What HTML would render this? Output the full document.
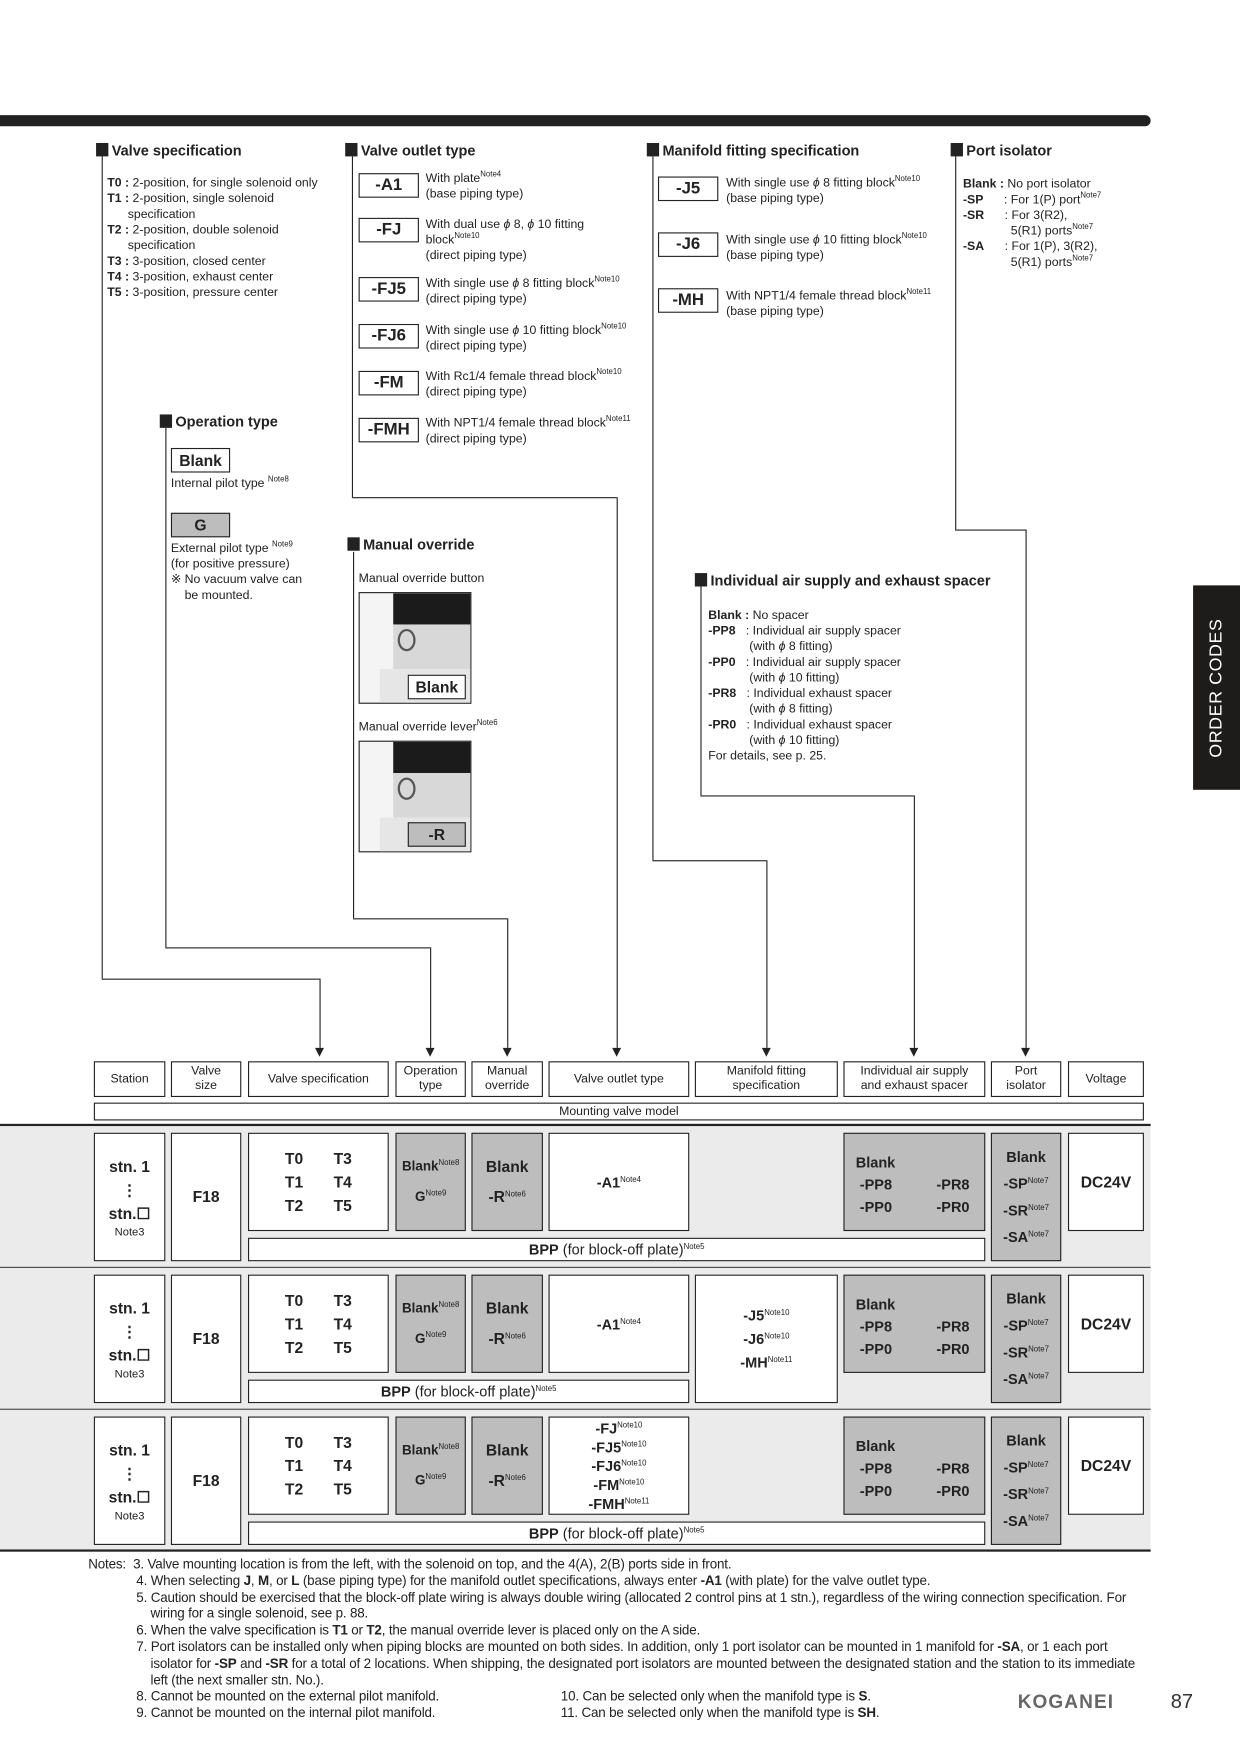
<!DOCTYPE html>
<html><head><meta charset="utf-8">
<style>
html,body{margin:0;padding:0;background:#fff;}
body{width:1240px;height:1754px;overflow:hidden;position:relative;}
#p{position:absolute;left:0;top:0;width:1110px;height:1570px;transform:scale(1.11712);transform-origin:0 0;font-family:"Liberation Sans",sans-serif;color:#222;}
#p div{position:absolute;box-sizing:border-box;}
.t{font-size:13px;font-weight:bold;white-space:nowrap;}
.t:before{content:"";display:inline-block;width:11px;height:12px;background:#222;margin-right:3px;vertical-align:-1px;}
.s{font-size:11px;line-height:14px;white-space:nowrap;}
.code{border:1px solid #222;background:#fff;font-weight:bold;font-size:15px;text-align:center;line-height:20px;width:54px;height:22px;}
.vl{border-left:1px solid #222;width:0;}
.hl{border-top:1px solid #222;height:0;}
.ar{width:0;height:0;border-left:4px solid transparent;border-right:4px solid transparent;border-top:8px solid #222;}
.bx{border:1px solid #222;background:#fff;font-size:11px;text-align:center;display:flex;align-items:center;justify-content:center;line-height:13px;}
.g{background:#bdbdbd !important;}
sup{font-size:7px;font-weight:normal;vertical-align:5px;line-height:0;}
.cell{font-weight:bold;font-size:14px;line-height:21px;text-align:center;}
.n div{position:static !important;}
</style></head><body><div id="p">

<div style="left:0;top:103px;width:1030px;height:10px;background:#222;border-radius:0 5px 5px 0;"></div>

<div class="t" style="left:86px;top:127px;">Valve specification</div>
<div class="s" style="left:96px;top:157px;">
<b>T0 :</b> 2-position, for single solenoid only<br>
<b>T1 :</b> 2-position, single solenoid<br>&nbsp;&nbsp;&nbsp;&nbsp;&nbsp;&nbsp;specification<br>
<b>T2 :</b> 2-position, double solenoid<br>&nbsp;&nbsp;&nbsp;&nbsp;&nbsp;&nbsp;specification<br>
<b>T3 :</b> 3-position, closed center<br>
<b>T4 :</b> 3-position, exhaust center<br>
<b>T5 :</b> 3-position, pressure center</div>

<div class="t" style="left:309px;top:127px;">Valve outlet type</div>
<div class="code" style="left:321px;top:155px;">-A1</div>
<div class="s" style="left:381px;top:153px;">With plate<sup>Note4</sup><br>(base piping type)</div>
<div class="code" style="left:321px;top:195px;">-FJ</div>
<div class="s" style="left:381px;top:194px;">With dual use <i>ϕ</i> 8, <i>ϕ</i> 10 fitting<br>block<sup>Note10</sup><br>(direct piping type)</div>
<div class="code" style="left:321px;top:248px;">-FJ5</div>
<div class="s" style="left:381px;top:247px;">With single use <i>ϕ</i> 8 fitting block<sup>Note10</sup><br>(direct piping type)</div>
<div class="code" style="left:321px;top:290px;">-FJ6</div>
<div class="s" style="left:381px;top:289px;">With single use <i>ϕ</i> 10 fitting block<sup>Note10</sup><br>(direct piping type)</div>
<div class="code" style="left:321px;top:332px;">-FM</div>
<div class="s" style="left:381px;top:330px;">With Rc1/4 female thread block<sup>Note10</sup><br>(direct piping type)</div>
<div class="code" style="left:321px;top:374px;">-FMH</div>
<div class="s" style="left:381px;top:372px;">With NPT1/4 female thread block<sup>Note11</sup><br>(direct piping type)</div>

<div class="t" style="left:579px;top:127px;">Manifold fitting specification</div>
<div class="code" style="left:589px;top:158px;">-J5</div>
<div class="s" style="left:650px;top:157px;">With single use <i>ϕ</i> 8 fitting block<sup>Note10</sup><br>(base piping type)</div>
<div class="code" style="left:589px;top:208px;">-J6</div>
<div class="s" style="left:650px;top:208px;">With single use <i>ϕ</i> 10 fitting block<sup>Note10</sup><br>(base piping type)</div>
<div class="code" style="left:589px;top:258px;">-MH</div>
<div class="s" style="left:650px;top:258px;">With NPT1/4 female thread block<sup>Note11</sup><br>(base piping type)</div>

<div class="t" style="left:851px;top:127px;">Port isolator</div>
<div class="s" style="left:862px;top:158px;">
<b>Blank :</b> No port isolator<br>
<b>-SP</b>&nbsp;&nbsp;&nbsp;&nbsp;&nbsp;&nbsp;: For 1(P) port<sup>Note7</sup><br>
<b>-SR</b>&nbsp;&nbsp;&nbsp;&nbsp;&nbsp;&nbsp;: For 3(R2),<br>
&nbsp;&nbsp;&nbsp;&nbsp;&nbsp;&nbsp;&nbsp;&nbsp;&nbsp;&nbsp;&nbsp;&nbsp;&nbsp;&nbsp;5(R1) ports<sup>Note7</sup><br>
<b>-SA</b>&nbsp;&nbsp;&nbsp;&nbsp;&nbsp;&nbsp;: For 1(P), 3(R2),<br>
&nbsp;&nbsp;&nbsp;&nbsp;&nbsp;&nbsp;&nbsp;&nbsp;&nbsp;&nbsp;&nbsp;&nbsp;&nbsp;&nbsp;5(R1) ports<sup>Note7</sup></div>

<div class="t" style="left:143px;top:370px;">Operation type</div>
<div class="code" style="left:153px;top:401px;width:53px;font-size:14px;">Blank</div>
<div class="s" style="left:153px;top:426px;">Internal pilot type <sup>Note8</sup></div>
<div class="code g" style="left:153px;top:459px;width:53px;font-size:14px;">G</div>
<div class="s" style="left:153px;top:484px;">External pilot type <sup>Note9</sup><br>(for positive pressure)<br>※ No vacuum valve can<br>&nbsp;&nbsp;&nbsp;&nbsp;be mounted.</div>

<div class="t" style="left:311px;top:480px;">Manual override</div>
<div class="s" style="left:321px;top:511px;">Manual override button</div>
<div style="left:321px;top:530px;width:101px;height:100px;border:1px solid #222;background:#f4f4f4;overflow:hidden;">
 <div style="left:30px;top:0;width:70px;height:28px;background:#1b1b1b;"></div>
 <div style="left:30px;top:28px;width:70px;height:40px;background:#d8d8d8;"></div>
 <div style="left:34px;top:32px;width:16px;height:20px;border:2px solid #555;border-radius:50%;"></div>
 <div style="left:18px;top:68px;width:82px;height:32px;background:#e6e6e6;"></div>
</div>
<div class="code" style="left:365px;top:604px;width:52px;font-size:14px;">Blank</div>
<div class="s" style="left:321px;top:644px;">Manual override lever<sup>Note6</sup></div>
<div style="left:321px;top:663px;width:101px;height:100px;border:1px solid #222;background:#f4f4f4;overflow:hidden;">
 <div style="left:30px;top:0;width:70px;height:28px;background:#1b1b1b;"></div>
 <div style="left:30px;top:28px;width:70px;height:40px;background:#d8d8d8;"></div>
 <div style="left:34px;top:32px;width:16px;height:20px;border:2px solid #555;border-radius:50%;"></div>
 <div style="left:18px;top:68px;width:82px;height:32px;background:#e6e6e6;"></div>
</div>
<div class="code g" style="left:365px;top:736px;width:52px;font-size:14px;">-R</div>

<div class="t" style="left:622px;top:512px;">Individual air supply and exhaust spacer</div>
<div class="s" style="left:634px;top:544px;">
<b>Blank :</b> No spacer<br>
<b>-PP8</b>&nbsp;&nbsp;&nbsp;: Individual air supply spacer<br>
&nbsp;&nbsp;&nbsp;&nbsp;&nbsp;&nbsp;&nbsp;&nbsp;&nbsp;&nbsp;&nbsp;&nbsp;(with <i>ϕ</i> 8 fitting)<br>
<b>-PP0</b>&nbsp;&nbsp;&nbsp;: Individual air supply spacer<br>
&nbsp;&nbsp;&nbsp;&nbsp;&nbsp;&nbsp;&nbsp;&nbsp;&nbsp;&nbsp;&nbsp;&nbsp;(with <i>ϕ</i> 10 fitting)<br>
<b>-PR8</b>&nbsp;&nbsp;&nbsp;: Individual exhaust spacer<br>
&nbsp;&nbsp;&nbsp;&nbsp;&nbsp;&nbsp;&nbsp;&nbsp;&nbsp;&nbsp;&nbsp;&nbsp;(with <i>ϕ</i> 8 fitting)<br>
<b>-PR0</b>&nbsp;&nbsp;&nbsp;: Individual exhaust spacer<br>
&nbsp;&nbsp;&nbsp;&nbsp;&nbsp;&nbsp;&nbsp;&nbsp;&nbsp;&nbsp;&nbsp;&nbsp;(with <i>ϕ</i> 10 fitting)<br>
For details, see p. 25.</div>

<div class="vl" style="left:91px;top:140px;height:736px;"></div>
<div class="hl" style="left:91px;top:876px;width:195px;"></div>
<div class="vl" style="left:286px;top:876px;height:62px;"></div>
<div class="ar" style="left:282px;top:938px;"></div>

<div class="vl" style="left:148px;top:383px;height:465px;"></div>
<div class="hl" style="left:148px;top:848px;width:237px;"></div>
<div class="vl" style="left:385px;top:848px;height:90px;"></div>
<div class="ar" style="left:381px;top:938px;"></div>

<div class="vl" style="left:315px;top:140px;height:305px;"></div>
<div class="hl" style="left:315px;top:445px;width:237px;"></div>
<div class="vl" style="left:552px;top:445px;height:493px;"></div>
<div class="ar" style="left:548px;top:938px;"></div>

<div class="vl" style="left:316px;top:494px;height:328px;"></div>
<div class="hl" style="left:316px;top:822px;width:138px;"></div>
<div class="vl" style="left:454px;top:822px;height:116px;"></div>
<div class="ar" style="left:450px;top:938px;"></div>

<div class="vl" style="left:584px;top:140px;height:630px;"></div>
<div class="hl" style="left:584px;top:770px;width:102px;"></div>
<div class="vl" style="left:686px;top:770px;height:168px;"></div>
<div class="ar" style="left:682px;top:938px;"></div>

<div class="vl" style="left:627px;top:525px;height:187px;"></div>
<div class="hl" style="left:627px;top:712px;width:191px;"></div>
<div class="vl" style="left:818px;top:712px;height:226px;"></div>
<div class="ar" style="left:814px;top:938px;"></div>

<div class="vl" style="left:855px;top:140px;height:334px;"></div>
<div class="hl" style="left:855px;top:474px;width:63px;"></div>
<div class="vl" style="left:918px;top:474px;height:464px;"></div>
<div class="ar" style="left:914px;top:938px;"></div>

<div style="left:1068px;top:524px;width:42px;height:183px;background:#1e1b1b;"></div>
<div style="left:998px;top:604px;width:183px;height:24px;transform:rotate(-90deg);color:#fff;font-size:16px;text-align:center;line-height:24px;letter-spacing:0.5px;">ORDER CODES</div>

<div class="bx" style="left:84px;top:950px;width:64px;height:32px;"><span>Station</span></div>
<div class="bx" style="left:153px;top:950px;width:63px;height:32px;"><span>Valve<br>size</span></div>
<div class="bx" style="left:222px;top:950px;width:126px;height:32px;"><span>Valve specification</span></div>
<div class="bx" style="left:354px;top:950px;width:63px;height:32px;"><span>Operation<br>type</span></div>
<div class="bx" style="left:422px;top:950px;width:64px;height:32px;"><span>Manual<br>override</span></div>
<div class="bx" style="left:491px;top:950px;width:126px;height:32px;"><span>Valve outlet type</span></div>
<div class="bx" style="left:622px;top:950px;width:128px;height:32px;"><span>Manifold fitting<br>specification</span></div>
<div class="bx" style="left:755px;top:950px;width:127px;height:32px;"><span>Individual air supply<br>and exhaust spacer</span></div>
<div class="bx" style="left:887px;top:950px;width:63px;height:32px;"><span>Port<br>isolator</span></div>
<div class="bx" style="left:956px;top:950px;width:68px;height:32px;"><span>Voltage</span></div>
<div class="bx" style="left:84px;top:987px;width:940px;height:16px;"><span>Mounting valve model</span></div>

<div style="left:0;top:1008px;width:1030px;height:380px;background:#ebebeb;"></div>
<div style="left:0;top:1006px;width:1030px;height:2px;background:#222;"></div>
<div style="left:0;top:1134px;width:1030px;height:1px;background:#444;"></div>
<div style="left:0;top:1261px;width:1030px;height:1px;background:#444;"></div>
<div style="left:0;top:1387px;width:1030px;height:2px;background:#222;"></div>

<!-- ROW 1 -->
<div class="bx" style="left:84px;top:1014px;width:64px;height:115px;"><span><span class="cell" style="display:block">stn. 1<br>⋮<br>stn.☐</span><span style="font-size:10px;">Note3</span></span></div>
<div class="bx cell" style="left:153px;top:1014px;width:63px;height:115px;"><span>F18</span></div>
<div class="bx cell" style="left:222px;top:1014px;width:126px;height:88px;"><span>T0&nbsp;&nbsp;&nbsp;&nbsp;&nbsp;&nbsp;&nbsp;T3<br>T1&nbsp;&nbsp;&nbsp;&nbsp;&nbsp;&nbsp;&nbsp;T4<br>T2&nbsp;&nbsp;&nbsp;&nbsp;&nbsp;&nbsp;&nbsp;T5</span></div>
<div class="bx g" style="left:354px;top:1014px;width:63px;height:88px;font-weight:bold;font-size:12px;line-height:27px;"><span>Blank<sup>Note8</sup><br>G<sup>Note9</sup></span></div>
<div class="bx g" style="left:422px;top:1014px;width:64px;height:88px;font-weight:bold;font-size:14px;line-height:27px;"><span>Blank<br>-R<sup>Note6</sup></span></div>
<div class="bx" style="left:491px;top:1014px;width:126px;height:88px;font-weight:bold;font-size:13px;"><span>-A1<sup>Note4</sup></span></div>
<div class="bx g" style="left:755px;top:1014px;width:127px;height:88px;font-weight:bold;font-size:13px;line-height:20px;text-align:left;display:block;padding:16px 0 0 10px;">Blank<br>&nbsp;-PP8&nbsp;&nbsp;&nbsp;&nbsp;&nbsp;&nbsp;&nbsp;&nbsp;&nbsp;&nbsp;&nbsp;-PR8<br>&nbsp;-PP0&nbsp;&nbsp;&nbsp;&nbsp;&nbsp;&nbsp;&nbsp;&nbsp;&nbsp;&nbsp;&nbsp;-PR0</div>
<div class="bx g" style="left:887px;top:1014px;width:63px;height:115px;font-weight:bold;font-size:13px;line-height:24px;"><span>Blank<br>-SP<sup>Note7</sup><br>-SR<sup>Note7</sup><br>-SA<sup>Note7</sup></span></div>
<div class="bx cell" style="left:956px;top:1014px;width:68px;height:88px;"><span>DC24V</span></div>
<div class="bx" style="left:222px;top:1108px;width:660px;height:21px;font-size:13px;"><span><b>BPP</b> (for block-off plate)<sup>Note5</sup></span></div>

<!-- ROW 2 -->
<div class="bx" style="left:84px;top:1141px;width:64px;height:115px;"><span><span class="cell" style="display:block">stn. 1<br>⋮<br>stn.☐</span><span style="font-size:10px;">Note3</span></span></div>
<div class="bx cell" style="left:153px;top:1141px;width:63px;height:115px;"><span>F18</span></div>
<div class="bx cell" style="left:222px;top:1141px;width:126px;height:88px;"><span>T0&nbsp;&nbsp;&nbsp;&nbsp;&nbsp;&nbsp;&nbsp;T3<br>T1&nbsp;&nbsp;&nbsp;&nbsp;&nbsp;&nbsp;&nbsp;T4<br>T2&nbsp;&nbsp;&nbsp;&nbsp;&nbsp;&nbsp;&nbsp;T5</span></div>
<div class="bx g" style="left:354px;top:1141px;width:63px;height:88px;font-weight:bold;font-size:12px;line-height:27px;"><span>Blank<sup>Note8</sup><br>G<sup>Note9</sup></span></div>
<div class="bx g" style="left:422px;top:1141px;width:64px;height:88px;font-weight:bold;font-size:14px;line-height:27px;"><span>Blank<br>-R<sup>Note6</sup></span></div>
<div class="bx" style="left:491px;top:1141px;width:126px;height:88px;font-weight:bold;font-size:13px;"><span>-A1<sup>Note4</sup></span></div>
<div class="bx" style="left:622px;top:1141px;width:128px;height:115px;font-weight:bold;font-size:13px;line-height:21px;"><span>-J5<sup>Note10</sup><br>-J6<sup>Note10</sup><br>-MH<sup>Note11</sup></span></div>
<div class="bx g" style="left:755px;top:1141px;width:127px;height:88px;font-weight:bold;font-size:13px;line-height:20px;text-align:left;display:block;padding:16px 0 0 10px;">Blank<br>&nbsp;-PP8&nbsp;&nbsp;&nbsp;&nbsp;&nbsp;&nbsp;&nbsp;&nbsp;&nbsp;&nbsp;&nbsp;-PR8<br>&nbsp;-PP0&nbsp;&nbsp;&nbsp;&nbsp;&nbsp;&nbsp;&nbsp;&nbsp;&nbsp;&nbsp;&nbsp;-PR0</div>
<div class="bx g" style="left:887px;top:1141px;width:63px;height:115px;font-weight:bold;font-size:13px;line-height:24px;"><span>Blank<br>-SP<sup>Note7</sup><br>-SR<sup>Note7</sup><br>-SA<sup>Note7</sup></span></div>
<div class="bx cell" style="left:956px;top:1141px;width:68px;height:88px;"><span>DC24V</span></div>
<div class="bx" style="left:222px;top:1235px;width:395px;height:21px;font-size:13px;"><span><b>BPP</b> (for block-off plate)<sup>Note5</sup></span></div>

<!-- ROW 3 -->
<div class="bx" style="left:84px;top:1268px;width:64px;height:115px;"><span><span class="cell" style="display:block">stn. 1<br>⋮<br>stn.☐</span><span style="font-size:10px;">Note3</span></span></div>
<div class="bx cell" style="left:153px;top:1268px;width:63px;height:115px;"><span>F18</span></div>
<div class="bx cell" style="left:222px;top:1268px;width:126px;height:88px;"><span>T0&nbsp;&nbsp;&nbsp;&nbsp;&nbsp;&nbsp;&nbsp;T3<br>T1&nbsp;&nbsp;&nbsp;&nbsp;&nbsp;&nbsp;&nbsp;T4<br>T2&nbsp;&nbsp;&nbsp;&nbsp;&nbsp;&nbsp;&nbsp;T5</span></div>
<div class="bx g" style="left:354px;top:1268px;width:63px;height:88px;font-weight:bold;font-size:12px;line-height:27px;"><span>Blank<sup>Note8</sup><br>G<sup>Note9</sup></span></div>
<div class="bx g" style="left:422px;top:1268px;width:64px;height:88px;font-weight:bold;font-size:14px;line-height:27px;"><span>Blank<br>-R<sup>Note6</sup></span></div>
<div class="bx" style="left:491px;top:1268px;width:126px;height:88px;font-weight:bold;font-size:13px;line-height:17px;"><span>-FJ<sup>Note10</sup><br>-FJ5<sup>Note10</sup><br>-FJ6<sup>Note10</sup><br>-FM<sup>Note10</sup><br>-FMH<sup>Note11</sup></span></div>
<div class="bx g" style="left:755px;top:1268px;width:127px;height:88px;font-weight:bold;font-size:13px;line-height:20px;text-align:left;display:block;padding:16px 0 0 10px;">Blank<br>&nbsp;-PP8&nbsp;&nbsp;&nbsp;&nbsp;&nbsp;&nbsp;&nbsp;&nbsp;&nbsp;&nbsp;&nbsp;-PR8<br>&nbsp;-PP0&nbsp;&nbsp;&nbsp;&nbsp;&nbsp;&nbsp;&nbsp;&nbsp;&nbsp;&nbsp;&nbsp;-PR0</div>
<div class="bx g" style="left:887px;top:1268px;width:63px;height:115px;font-weight:bold;font-size:13px;line-height:24px;"><span>Blank<br>-SP<sup>Note7</sup><br>-SR<sup>Note7</sup><br>-SA<sup>Note7</sup></span></div>
<div class="bx cell" style="left:956px;top:1268px;width:68px;height:88px;"><span>DC24V</span></div>
<div class="bx" style="left:222px;top:1362px;width:660px;height:21px;font-size:13px;"><span><b>BPP</b> (for block-off plate)<sup>Note5</sup></span></div>

<!-- notes -->
<div class="n" style="left:79px;top:1393px;width:960px;font-size:12px;line-height:14.8px;letter-spacing:-0.15px;white-space:nowrap;">
<div>Notes:&nbsp;&nbsp;3. Valve mounting location is from the left, with the solenoid on top, and the 4(A), 2(B) ports side in front.</div>
<div style="padding-left:43px;">4. When selecting <b>J</b>, <b>M</b>, or <b>L</b> (base piping type) for the manifold outlet specifications, always enter <b>-A1</b> (with plate) for the valve outlet type.</div>
<div style="padding-left:43px;">5. Caution should be exercised that the block-off plate wiring is always double wiring (allocated 2 control pins at 1 stn.), regardless of the wiring connection specification. For<br>&nbsp;&nbsp;&nbsp;&nbsp;wiring for a single solenoid, see p. 88.</div>
<div style="padding-left:43px;">6. When the valve specification is <b>T1</b> or <b>T2</b>, the manual override lever is placed only on the A side.</div>
<div style="padding-left:43px;">7. Port isolators can be installed only when piping blocks are mounted on both sides. In addition, only 1 port isolator can be mounted in 1 manifold for <b>-SA</b>, or 1 each port<br>&nbsp;&nbsp;&nbsp;&nbsp;isolator for <b>-SP</b> and <b>-SR</b> for a total of 2 locations. When shipping, the designated port isolators are mounted between the designated station and the station to its immediate<br>&nbsp;&nbsp;&nbsp;&nbsp;left (the next smaller stn. No.).</div>
</div>
<div style="left:122px;top:1511px;font-size:12px;line-height:15px;white-space:nowrap;letter-spacing:-0.15px;">8. Cannot be mounted on the external pilot manifold.<br>9. Cannot be mounted on the internal pilot manifold.</div>
<div style="left:502px;top:1511px;font-size:12px;line-height:15px;white-space:nowrap;letter-spacing:-0.15px;">10. Can be selected only when the manifold type is <b>S</b>.<br>11. Can be selected only when the manifold type is <b>SH</b>.</div>
<div style="left:911px;top:1514px;font-size:17px;font-weight:bold;color:#666;letter-spacing:1px;">KOGANEI</div>
<div style="left:1048px;top:1513px;font-size:18px;color:#333;">87</div>

</div></body></html>
